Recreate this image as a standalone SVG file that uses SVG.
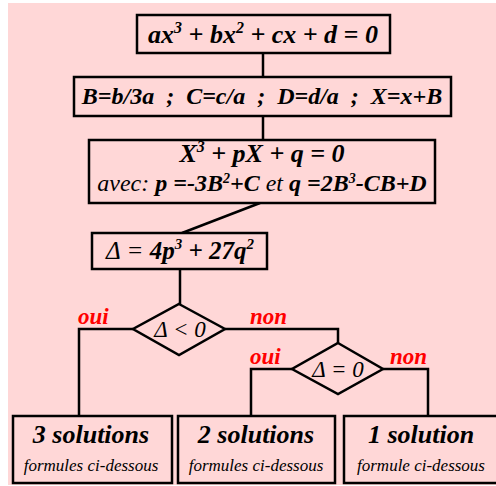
<svg xmlns="http://www.w3.org/2000/svg" width="496" height="486" viewBox="0 0 496 486">
<defs>
<rect id="bgr" x="8" y="3" width="490" height="482"/>
</defs>
<use href="#bgr" fill="#ffd7d7"/>
<g id="connectors" fill="none" stroke="#000" stroke-width="2.5">
<line x1="263" y1="53" x2="263" y2="77"/>
<line x1="263" y1="116" x2="263" y2="140"/>
<line x1="260" y1="203" x2="182" y2="233"/>
<line x1="180" y1="269" x2="180" y2="304"/>
<polyline points="133,329 79,329 79,416"/>
<polyline points="225,329 338,329 338,343"/>
<polyline points="292,369 251,369 251,416"/>
<polyline points="383,369 428,369 428,416"/>
</g>
<g id="n1">
<rect x="137" y="15" width="253" height="38" fill="#ffd7d7" stroke="#000" stroke-width="2.5"/>
<text font-family="Liberation Serif" font-weight="bold" font-style="italic" text-anchor="middle" x="263" y="43" font-size="26">ax<tspan font-size="16" dy="-10">3</tspan><tspan dy="10"> + bx</tspan><tspan font-size="16" dy="-10">2</tspan><tspan dy="10"> + cx + d = 0</tspan></text>
</g>
<g id="n2">
<rect x="74" y="77" width="377" height="39" fill="#ffd7d7" stroke="#000" stroke-width="2.5"/>
<text font-family="Liberation Serif" font-weight="bold" font-style="italic" text-anchor="middle" x="262" y="104" font-size="24" xml:space="preserve">B=b/3a  ;  C=c/a  ;  D=d/a  ;  X=x+B</text>
</g>
<g id="n3">
<rect x="89" y="140" width="346" height="63" fill="#ffd7d7" stroke="#000" stroke-width="2.5"/>
<text font-family="Liberation Serif" font-weight="bold" font-style="italic" text-anchor="middle" x="262" y="162" font-size="26">X<tspan font-size="16" dy="-10">3</tspan><tspan dy="10"> + pX + q = 0</tspan></text>
<text font-family="Liberation Serif" font-style="italic" text-anchor="middle" x="262" y="191" font-size="24">avec: <tspan font-weight="bold">p =-3B</tspan><tspan font-weight="bold" font-size="14" dy="-8">2</tspan><tspan font-weight="bold" dy="8">+C</tspan> et <tspan font-weight="bold">q =2B</tspan><tspan font-weight="bold" font-size="14" dy="-8">3</tspan><tspan font-weight="bold" dy="8">-CB+D</tspan></text>
</g>
<g id="n4">
<rect x="92" y="233" width="175" height="36" fill="#ffd7d7" stroke="#000" stroke-width="2.5"/>
<text font-family="Liberation Serif" font-style="italic" text-anchor="middle" x="180" y="259" font-size="25">&#916; = <tspan font-weight="bold">4p</tspan><tspan font-weight="bold" font-size="15" dy="-10">3</tspan><tspan font-weight="bold" dy="10"> + 27q</tspan><tspan font-weight="bold" font-size="15" dy="-10">2</tspan></text>
</g>
<g id="d1">
<polygon points="179,304 225,329 179,355 133,329" fill="none" stroke="#000" stroke-width="2.5"/>
<text font-family="Liberation Serif" font-style="italic" text-anchor="middle" x="180" y="337" font-size="23">&#916; &lt; 0</text>
</g>
<g id="d2">
<polygon points="338,343 383,369 338,394 292,369" fill="none" stroke="#000" stroke-width="2.5"/>
<text font-family="Liberation Serif" font-style="italic" text-anchor="middle" x="338" y="377" font-size="23">&#916; = 0</text>
</g>
<g id="labels" fill="#ff0000">
<text font-family="Liberation Serif" font-weight="bold" font-style="italic" font-size="23" x="78" y="324">oui</text>
<text font-family="Liberation Serif" font-weight="bold" font-style="italic" font-size="23" x="250" y="324">non</text>
<text font-family="Liberation Serif" font-weight="bold" font-style="italic" font-size="23" x="250" y="364">oui</text>
<text font-family="Liberation Serif" font-weight="bold" font-style="italic" font-size="23" x="390" y="364">non</text>
</g>
<g id="s3">
<rect x="13" y="416" width="159" height="67" fill="#ffd7d7" stroke="#000" stroke-width="2.5"/>
<text font-family="Liberation Serif" font-weight="bold" font-style="italic" text-anchor="middle" x="91" y="443" font-size="26">3 solutions</text>
<text font-family="Liberation Serif" font-style="italic" text-anchor="middle" x="91" y="471" font-size="17">formules ci-dessous</text>
</g>
<g id="s2">
<rect x="178" y="416" width="157" height="67" fill="#ffd7d7" stroke="#000" stroke-width="2.5"/>
<text font-family="Liberation Serif" font-weight="bold" font-style="italic" text-anchor="middle" x="256" y="443" font-size="26">2 solutions</text>
<text font-family="Liberation Serif" font-style="italic" text-anchor="middle" x="256" y="471" font-size="17">formules ci-dessous</text>
</g>
<g id="s1">
<rect x="344" y="416" width="160" height="67" fill="#ffd7d7" stroke="#000" stroke-width="2.5"/>
<text font-family="Liberation Serif" font-weight="bold" font-style="italic" text-anchor="middle" x="421" y="443" font-size="26">1 solution</text>
<text font-family="Liberation Serif" font-style="italic" text-anchor="middle" x="421" y="471" font-size="17">formule ci-dessous</text>
</g>
</svg>
